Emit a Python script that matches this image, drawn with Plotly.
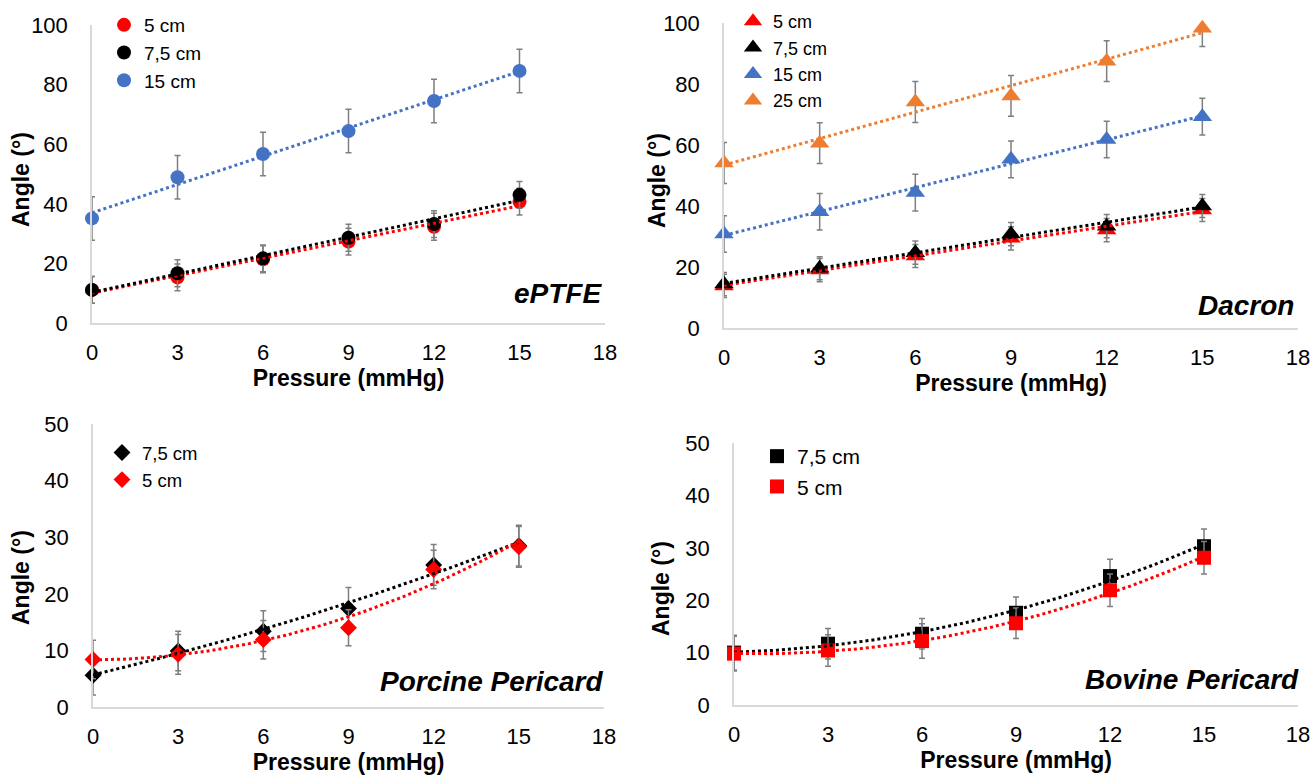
import numpy as np
import plotly.graph_objects as go

# ---------------- data ----------------
pressure = [0, 3, 6, 9, 12, 15]

# ePTFE
ptfe_5 = [11.1, 15.3, 21.4, 27.3, 32.3, 40.7]
ptfe_75 = [11.1, 16.7, 21.7, 28.6, 33.2, 43.0]
ptfe_15 = [35.1, 48.9, 56.7, 64.4, 74.5, 84.6]
ptfe_5_err = [4.5, 4.5, 4.5, 4.5, 4.5, 4.5]
ptfe_75_err = [4.5, 4.5, 4.5, 4.5, 4.5, 4.5]
ptfe_15_err = [7.3, 7.3, 7.3, 7.3, 7.3, 7.3]

# Dacron
dac_5 = [13.8, 19.0, 23.6, 29.4, 32.1, 38.7]
dac_75 = [14.4, 19.6, 24.7, 30.8, 33.4, 40.0]
dac_15 = [30.8, 38.1, 44.4, 55.3, 61.8, 69.3]
dac_25 = [54.1, 60.6, 74.1, 76.1, 87.5, 98.3]
dac_5_err = [3.8, 3.8, 3.8, 3.8, 3.8, 3.8]
dac_75_err = [3.8, 3.8, 3.8, 3.8, 3.8, 3.8]
dac_15_err = [6.0, 6.0, 6.0, 6.0, 6.0, 6.0]
dac_25_err = [6.7, 6.7, 6.7, 6.7, 6.7, 6.0]

# Porcine Pericard
por_75 = [5.6, 9.9, 13.4, 17.4, 25.1, 28.5]
por_5 = [8.4, 9.3, 11.9, 14.0, 24.3, 28.3]
por_75_err = [3.5, 3.5, 3.6, 3.7, 3.6, 3.6]
por_5_err = [3.4, 3.5, 3.4, 3.2, 3.4, 3.6]

# Bovine Pericard
bov_75 = [10.0, 11.7, 13.6, 17.6, 24.6, 30.3]
bov_5 = [9.8, 10.4, 12.2, 15.6, 21.9, 28.1]
bov_75_err = [3.3, 2.9, 2.9, 3.0, 3.2, 3.3]
bov_5_err = [3.3, 3.0, 3.3, 2.9, 3.1, 3.1]

x_ticks = [0, 3, 6, 9, 12, 15, 18]
panel_labels = ["ePTFE", "Dacron", "Porcine Pericard", "Bovine Pericard"]
x_title = "Pressure (mmHg)"
y_title = "Angle (°)"

# ---------------- style ----------------
FONT = "Arial, 'Liberation Sans', sans-serif"
RED = "#FF0000"
BLACK = "#000000"
BLUE = "#4472C4"
ORANGE = "#ED7D31"
ERR = "#7F7F7F"
AXIS = "#D9D9D9"
W, H = 1313, 775

fig = go.Figure()

panels = [
    dict(xa="x", ya="y", legend="legend", deg=1,
         series=[("5 cm", ptfe_5, ptfe_5_err, RED),
                 ("7,5 cm", ptfe_75, ptfe_75_err, BLACK),
                 ("15 cm", ptfe_15, ptfe_15_err, BLUE)],
         symbol="circle", size=14),
    dict(xa="x2", ya="y2", legend="legend2", deg=1,
         series=[("5 cm", dac_5, dac_5_err, RED),
                 ("7,5 cm", dac_75, dac_75_err, BLACK),
                 ("15 cm", dac_15, dac_15_err, BLUE),
                 ("25 cm", dac_25, dac_25_err, ORANGE)],
         symbol="triangle-up", size=17),
    dict(xa="x3", ya="y3", legend="legend3", deg=2,
         series=[("7,5 cm", por_75, por_75_err, BLACK),
                 ("5 cm", por_5, por_5_err, RED)],
         symbol="diamond", size=13),
    dict(xa="x4", ya="y4", legend="legend4", deg=2,
         series=[("7,5 cm", bov_75, bov_75_err, BLACK),
                 ("5 cm", bov_5, bov_5_err, RED)],
         symbol="square", size=14),
]

for p in panels:
    for name, vals, err, color in p["series"]:
        fig.add_trace(go.Scatter(
            x=pressure, y=vals, mode="markers", name=name,
            marker=dict(color=color, symbol=p["symbol"], size=p["size"], line=dict(width=0)),
            error_y=dict(type="data", array=err, color=ERR, thickness=1.5, width=3),
            xaxis=p["xa"], yaxis=p["ya"], legend=p["legend"], cliponaxis=False,
        ))
    for name, vals, err, color in p["series"]:
        coef = np.polyfit(pressure, vals, p["deg"])
        xs = np.linspace(pressure[0], pressure[-1], 121)
        fig.add_trace(go.Scatter(
            x=xs, y=np.polyval(coef, xs), mode="lines", showlegend=False,
            line=dict(color=color, width=3, dash="dot"), hoverinfo="skip",
            xaxis=p["xa"], yaxis=p["ya"], legend=p["legend"],
        ))


def px_x(a, b):
    return [a / W, b / W]


def px_y(bottom, top):
    return [(H - bottom) / H, (H - top) / H]


def xax(domain, anchor):
    return dict(domain=domain, anchor=anchor, range=[0, 18], tickvals=x_ticks,
                showline=True, linecolor=AXIS, linewidth=1.5, showgrid=False,
                zeroline=False, ticks="", ticklabelstandoff=9, automargin=False,
                ticklabeloverflow="allow",
                tickfont=dict(family=FONT, size=22, color="#000"),
                title=dict(text=x_title, standoff=6,
                           font=dict(family=FONT, size=23, color="#000", weight="bold")))


def yax(domain, anchor, rmax, dtick):
    return dict(domain=domain, anchor=anchor, range=[0, rmax], dtick=dtick, tick0=0,
                showline=True, linecolor=AXIS, linewidth=1.5, showgrid=False,
                zeroline=False, ticks="", ticklabelstandoff=18, automargin=False,
                ticklabeloverflow="allow",
                tickfont=dict(family=FONT, size=22, color="#000"))


def leg(xpx, ytop, fs):
    return dict(x=xpx / W, y=(H - ytop) / H, xanchor="left", yanchor="top",
                bgcolor="rgba(0,0,0,0)", borderwidth=0, itemwidth=30,
                font=dict(family=FONT, size=fs, color="#000"), tracegroupgap=0)


fig.update_layout(
    width=W, height=H, autosize=False,
    margin=dict(l=0, r=0, t=0, b=0, pad=0, autoexpand=False),
    paper_bgcolor="white", plot_bgcolor="white",
    font=dict(family=FONT, color="#000"),
    xaxis=xax(px_x(92, 605), "y"),
    yaxis=yax(px_y(323, 25), "x", 100, 20),
    xaxis2=xax(px_x(724, 1298), "y2"),
    yaxis2=yax(px_y(328, 23), "x2", 100, 20),
    xaxis3=xax(px_x(93, 604), "y3"),
    yaxis3=yax(px_y(707, 424), "x3", 50, 10),
    xaxis4=xax(px_x(734, 1298), "y4"),
    yaxis4=yax(px_y(705, 443), "x4", 50, 10),
    legend=leg(104, 6, 19),
    legend2=leg(733, 3, 18),
    legend3=leg(102, 434, 18.5),
    legend4=leg(757, 436, 21),
)

# y-axis titles (rotated), placed like the reference
ytitle_pos = [(21, 180), (657, 181), (21, 578), (661, 589)]
for xc, yc in ytitle_pos:
    fig.add_annotation(text=y_title, xref="paper", yref="paper", x=xc / W, y=(H - yc) / H,
                       xanchor="center", yanchor="middle", showarrow=False, textangle=-90,
                       font=dict(family=FONT, size=23, color="#000", weight="bold"))

label_pos = [(604, 293), (1296, 305), (605, 681), (1301, 679)]
for text, (xr, yc) in zip(panel_labels, label_pos):
    fig.add_annotation(text=text, xref="paper", yref="paper", x=xr / W, y=(H - yc) / H,
                       xanchor="right", yanchor="middle", showarrow=False,
                       font=dict(family=FONT, size=28, color="#000", weight="bold", style="italic"))

fig.write_html("out.html", config={"displayModeBar": False},
               post_script="document.body.style.margin='0px';")
